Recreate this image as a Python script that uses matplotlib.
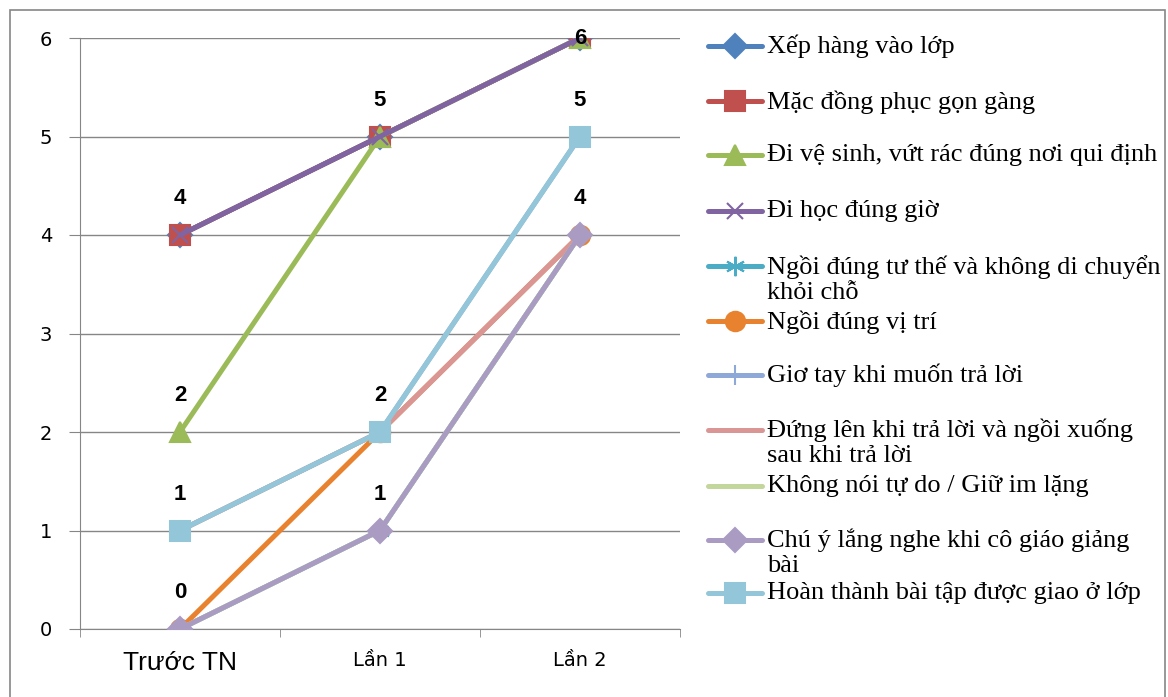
import matplotlib.pyplot as plt
from matplotlib.lines import Line2D
from matplotlib.patches import Rectangle
import numpy as np

# Data
categories = ["Trước TN", "Lần 1", "Lần 2"]
series_names = [
    "Xếp hàng vào lớp",
    "Mặc đồng phục gọn gàng",
    "Đi vệ sinh, vứt rác đúng nơi qui định",
    "Đi học đúng giờ",
    "Ngồi đúng tư thế và không di chuyển\nkhỏi chỗ",
    "Ngồi đúng vị trí",
    "Giơ tay khi muốn trả lời",
    "Đứng lên khi trả lời và ngồi xuống\nsau khi trả lời",
    "Không nói tự do / Giữ im lặng",
    "Chú ý lắng nghe khi cô giáo giảng\nbài",
    "Hoàn thành bài tập được giao ở lớp",
]
xep_hang = [4, 5, 6]
dong_phuc = [4, 5, 6]
ve_sinh = [2, 5, 6]
dung_gio = [4, 5, 6]
tu_the = [0, 1, 4]
vi_tri = [0, 2, 4]
gio_tay = [1, 2, 5]
dung_len = [1, 2, 4]
im_lang = [0, 1, 4]
lang_nghe = [0, 1, 4]
bai_tap = [1, 2, 5]
all_series = [xep_hang, dong_phuc, ve_sinh, dung_gio, tu_the, vi_tri,
              gio_tay, dung_len, im_lang, lang_nghe, bai_tap]

colors = ["#4F81BD", "#C0504D", "#9BBB59", "#8064A2", "#4BACC6", "#E8822E",
          "#8EA9D8", "#D99694", "#C3D69B", "#AA9BC2", "#93C6D8"]
markers = ["D", "s", "^", "x", (6, 2, 0), "o", "|", "", "", "D", "s"]
msizes = [12, 14, 14, 11, 14, 14, 14, 0, 0, 12, 14]

fig = plt.figure(figsize=(11.68, 6.97), dpi=100)
ax = fig.add_axes([80 / 1168, 1 - 629 / 697, 600 / 1168, 591 / 697])

x = np.arange(len(categories))
for vals, c, m, ms in zip(all_series, colors, markers, msizes):
    ax.plot(x, vals, color=c, lw=3.6, marker=m, ms=ms, mec=c, mew=1.5,
            solid_capstyle="round", zorder=3)

# value labels above each distinct point per category (kept inside the plot area)
for i in range(len(categories)):
    for v in sorted(set(s[i] for s in all_series)):
        ax.text(x[i], min(v + 0.37, 6), str(v), ha="center", va="center",
                fontsize=16, fontweight="bold", family="Liberation Sans", zorder=4)

ax.set_xlim(-0.5, 2.5)
ax.set_ylim(0, 6)
ax.set_yticks(range(7))
ax.yaxis.grid(True, color="#868686", lw=1)
ax.set_axisbelow(True)
for s in ["top", "right"]:
    ax.spines[s].set_visible(False)
for s in ["left", "bottom"]:
    ax.spines[s].set_color("#868686")
ax.tick_params(axis="y", length=8, color="#868686", labelsize=14, pad=12)
ax.set_xticks(x)
ax.set_xticklabels(categories)
ax.set_xticks([-0.5, 0.5, 1.5, 2.5], minor=True)
ax.tick_params(axis="x", which="major", length=0, pad=16)
ax.tick_params(axis="x", which="minor", length=6, color="#868686")
xl = ax.get_xticklabels()
xl[0].set_fontsize(19)
xl[0].set_family("Liberation Sans")
for t in xl[1:]:
    t.set_fontsize(14)

# legend drawn by hand so wrapped labels keep a fixed row pitch
leg_y = [46, 101, 155, 211, 266, 321, 375, 430, 486, 540, 593]
for name, c, m, ms, yy in zip(series_names, colors, markers, msizes, leg_y):
    yf = 1 - yy / 697
    fig.add_artist(Line2D([708 / 1168, 762 / 1168], [yf, yf], color=c, lw=3.6,
                          solid_capstyle="round"))
    if m:
        fig.add_artist(Line2D([735 / 1168], [yf], color=c, marker=m, ms=ms,
                              mec=c, mew=1.5))
    fig.text(767 / 1168, yf + 11 / 697, name, ha="left", va="top",
             fontsize=19, family="Liberation Serif", linespacing=1.15)

fig.add_artist(Rectangle((10 / 1168, -0.01), 1155 / 1168, 1 - 10 / 697 + 0.01,
                         fill=False, ec="#868686", lw=1.2, transform=fig.transFigure))

fig.savefig("out.png", dpi=100)
